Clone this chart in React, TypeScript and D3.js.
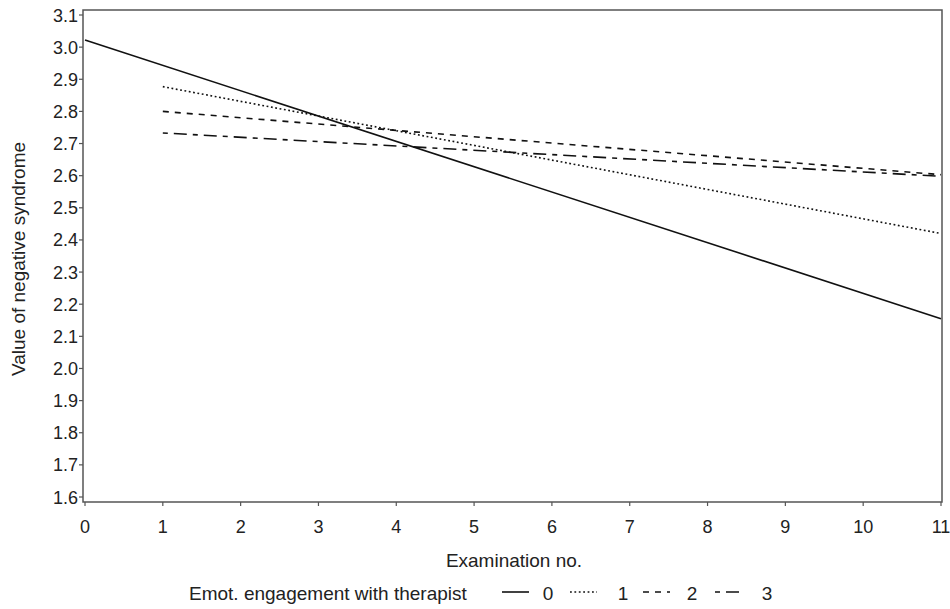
import React from "react";
import * as d3 from "d3";

// Examination number at which each fitted line starts / ends
const examStart = [0, 1, 1, 1];
const examEnd = [11, 11, 11, 11];
// Value of negative syndrome at those points
const valueStart = [3.022, 2.877, 2.8, 2.733];
const valueEnd = [2.155, 2.42, 2.603, 2.598];
const groups = ["0", "1", "2", "3"];
const dashes = ["none", "1.8,2.6", "6,6", "5,6,13,6"];

const xTicks = d3.range(0, 12);
const yTicks = d3.range(16, 32).map((v) => v / 10);

const W = 950;
const H = 609;
const font = "'Liberation Sans', Arial, sans-serif";

export default function App() {
  const frame = { left: 83, right: 942, top: 10, bottom: 502 };
  const x = d3.scaleLinear().domain([0, 11]).range([85, 941]);
  const y = d3.scaleLinear().domain([1.6, 3.1]).range([497, 15]);
  const line = d3
    .line<[number, number]>()
    .x((d) => x(d[0]))
    .y((d) => y(d[1]));

  // legend symbol start and label centre
  const legendPos = [
    { sx: 502, lx: 548 },
    { sx: 570, lx: 623 },
    { sx: 643, lx: 692 },
    { sx: 715, lx: 767 },
  ];

  return (
    <svg
      width={W}
      height={H}
      style={{ position: "absolute", left: 0, top: 0, background: "#fff" }}
      fontFamily={font}
    >
      <rect
        x={frame.left}
        y={frame.top}
        width={frame.right - frame.left}
        height={frame.bottom - frame.top}
        fill="none"
        stroke="#555"
        strokeWidth={1.5}
      />
      {yTicks.map((t) => (
        <g key={"y" + t}>
          <line x1={frame.left - 4} x2={frame.left} y1={y(t)} y2={y(t)} stroke="#555" strokeWidth={1.2} />
          <text x={78} y={y(t) + 6.5} textAnchor="end" fontSize={18} fill="#222">
            {t.toFixed(1)}
          </text>
        </g>
      ))}
      {xTicks.map((t) => (
        <g key={"x" + t}>
          <line x1={x(t)} x2={x(t)} y1={frame.bottom} y2={frame.bottom + 4} stroke="#555" strokeWidth={1.2} />
          <text x={x(t)} y={533} textAnchor="middle" fontSize={18} fill="#222">
            {t}
          </text>
        </g>
      ))}
      <text x={514} y={567} textAnchor="middle" fontSize={19} fill="#222">
        Examination no.
      </text>
      <text
        transform={`translate(25, 259) rotate(-90)`}
        textAnchor="middle"
        fontSize={19}
        fill="#222"
      >
        Value of negative syndrome
      </text>
      {groups.map((g, i) => (
        <path
          key={g}
          d={line([
            [examStart[i], valueStart[i]],
            [examEnd[i], valueEnd[i]],
          ]) as string}
          fill="none"
          stroke="#111"
          strokeWidth={1.6}
          strokeDasharray={dashes[i]}
        />
      ))}
      <text x={189} y={600} fontSize={19} fill="#222">
        Emot. engagement with therapist
      </text>
      {groups.map((g, i) => (
        <g key={"l" + g}>
          <line
            x1={legendPos[i].sx}
            x2={legendPos[i].sx + 27}
            y1={592}
            y2={592}
            stroke="#111"
            strokeWidth={1.6}
            strokeDasharray={dashes[i]}
          />
          <text x={legendPos[i].lx} y={600} textAnchor="middle" fontSize={19} fill="#222">
            {g}
          </text>
        </g>
      ))}
    </svg>
  );
}
